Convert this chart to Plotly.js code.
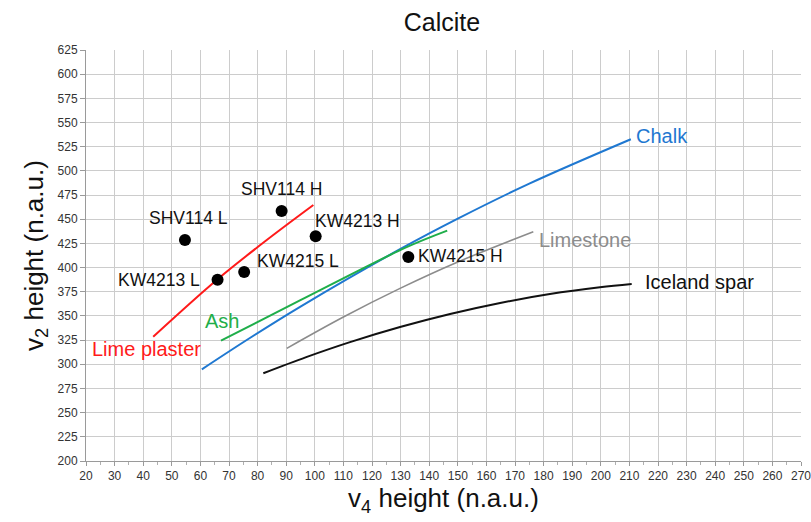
<!DOCTYPE html>
<html><head><meta charset="utf-8">
<script src="https://cdn.plot.ly/plotly-3.0.1.min.js"></script>
<style>body{margin:0;background:#fff}#c{width:811px;height:522px}</style>
</head><body><div id="c"></div>
<script>
// Sample points
const sampleNames = ["SHV114 L","SHV114 H","KW4213 H","KW4213 L","KW4215 L","KW4215 H"];
const sampleV4 = [54.6, 88.4, 100.3, 66.0, 75.3, 132.7];
const sampleV2 = [428.5, 458.5, 432.5, 387.5, 395.5, 411.0];

// Reference curves
const limePlasterV4 = [43.5, 65.7, 83.2, 99.5];
const limePlasterV2 = [328.5, 387.2, 428.5, 464.7];
const ashV4 = [67.2, 94.8, 131.5, 146.3];
const ashV2 = [324.5, 366.0, 420.3, 438.2];
const chalkV4 = [60.5, 77.3, 95.0, 129.8, 150.0, 175.0, 210.5];
const chalkV2 = [294.8, 327.2, 359.7, 419.0, 450.6, 486.8, 532.7];
const limestoneV4 = [90.2, 110.0, 129.8, 150.0, 176.4];
const limestoneV2 = [316.5, 348.9, 378.5, 405.8, 437.1];
const icelandV4 = [82.0, 97.0, 112.3, 129.8, 147.3, 164.8, 182.2, 199.7, 210.8];
const icelandV2 = [290.7, 307.4, 322.9, 338.5, 352.0, 363.4, 372.6, 379.6, 383.0];

const xTicks = [20,30,40,50,60,70,80,90,100,110,120,130,140,150,160,170,180,190,200,210,220,230,240,250,260,270];
const yTicks = [200,225,250,275,300,325,350,375,400,425,450,475,500,525,550,575,600,625];

const FONT = "Liberation Sans, Arial, sans-serif";

function curve(x, y, color, w) {
  return {x: x, y: y, mode: 'lines', type: 'scatter', line: {color: color, width: w, shape: 'spline', smoothing: 1}, hoverinfo: 'skip'};
}

const traces = [
  curve(icelandV4, icelandV2, '#111111', 2),
  curve(limestoneV4, limestoneV2, '#8c8c8c', 1.6),
  curve(chalkV4, chalkV2, '#1f78d1', 2),
  curve(ashV4, ashV2, '#1fae4a', 2),
  curve(limePlasterV4, limePlasterV2, '#ff1a1a', 2),
  {x: sampleV4, y: sampleV2, mode: 'markers', type: 'scatter', marker: {color: '#000', size: 12}, text: sampleNames}
];

function ann(text, x, y, color, size, xanchor) {
  return {text: text, x: x, y: y, xref: 'x', yref: 'y', showarrow: false, xanchor: xanchor || 'center', yanchor: 'middle', font: {family: FONT, size: size, color: color}};
}

const annotations = [
  ann('Lime plaster', 41.3, 315.8, '#ff1a1a', 20),
  ann('Ash', 67.6, 344.8, '#1fae4a', 20),
  ann('Chalk', 211.6, 536, '#1f78d1', 20, 'left'),
  ann('Limestone', 177.7, 428.5, '#8c8c8c', 20, 'left'),
  ann('Iceland spar', 214.8, 385.1, '#111111', 20, 'left'),
  ann(sampleNames[0], 55.7, 451.3, '#111', 17.5),
  ann(sampleNames[1], 88.5, 481.3, '#111', 17.5),
  ann(sampleNames[2], 115.1, 448.2, '#111', 17.5),
  ann(sampleNames[3], 45.5, 387.2, '#111', 17.5),
  ann(sampleNames[4], 94.1, 406.8, '#111', 17.5),
  ann(sampleNames[5], 135.4, 412.0, '#111', 17.5, 'left')
];

const layout = {
  width: 811, height: 522,
  margin: {l: 86, r: 10, t: 50, b: 61},
  paper_bgcolor: '#fff', plot_bgcolor: '#fff',
  showlegend: false,
  title: {text: 'Calcite', x: 0.545, xanchor: 'center', y: 0.957, yanchor: 'middle', font: {family: FONT, size: 25, color: '#111'}},
  xaxis: {
    range: [20, 270], tickvals: xTicks, ticktext: xTicks.map(String),
    showgrid: true, gridcolor: '#cccccc', gridwidth: 1,
    showline: true, linecolor: '#9a9a9a', linewidth: 1,
    ticks: 'outside', ticklen: 4, tickcolor: '#9a9a9a',
    minor: {dtick: 5, tick0: 20, ticks: 'outside', ticklen: 3, tickcolor: '#b0b0b0', showgrid: false},
    tickfont: {family: FONT, size: 12, color: '#333'},
    ticklabeloverflow: 'allow',
    zeroline: false, fixedrange: true,
    title: {text: 'v<sub>4</sub> height (n.a.u.)', font: {family: FONT, size: 26, color: '#111'}, standoff: 6}
  },
  yaxis: {
    range: [200, 625], tickvals: yTicks, ticktext: yTicks.map(String),
    showgrid: true, gridcolor: '#cccccc', gridwidth: 1,
    showline: true, linecolor: '#9a9a9a', linewidth: 1,
    ticks: 'outside', ticklen: 5, tickcolor: '#9a9a9a',
    tickfont: {family: FONT, size: 12, color: '#333'},
    ticklabeloverflow: 'allow',
    zeroline: false, fixedrange: true,
    title: {text: 'v<sub>2</sub> height (n.a.u.)', font: {family: FONT, size: 26, color: '#111'}, standoff: 6}
  },
  annotations: annotations
};

Plotly.newPlot('c', traces, layout, {displayModeBar: false, staticPlot: true});
</script>
</body></html>
